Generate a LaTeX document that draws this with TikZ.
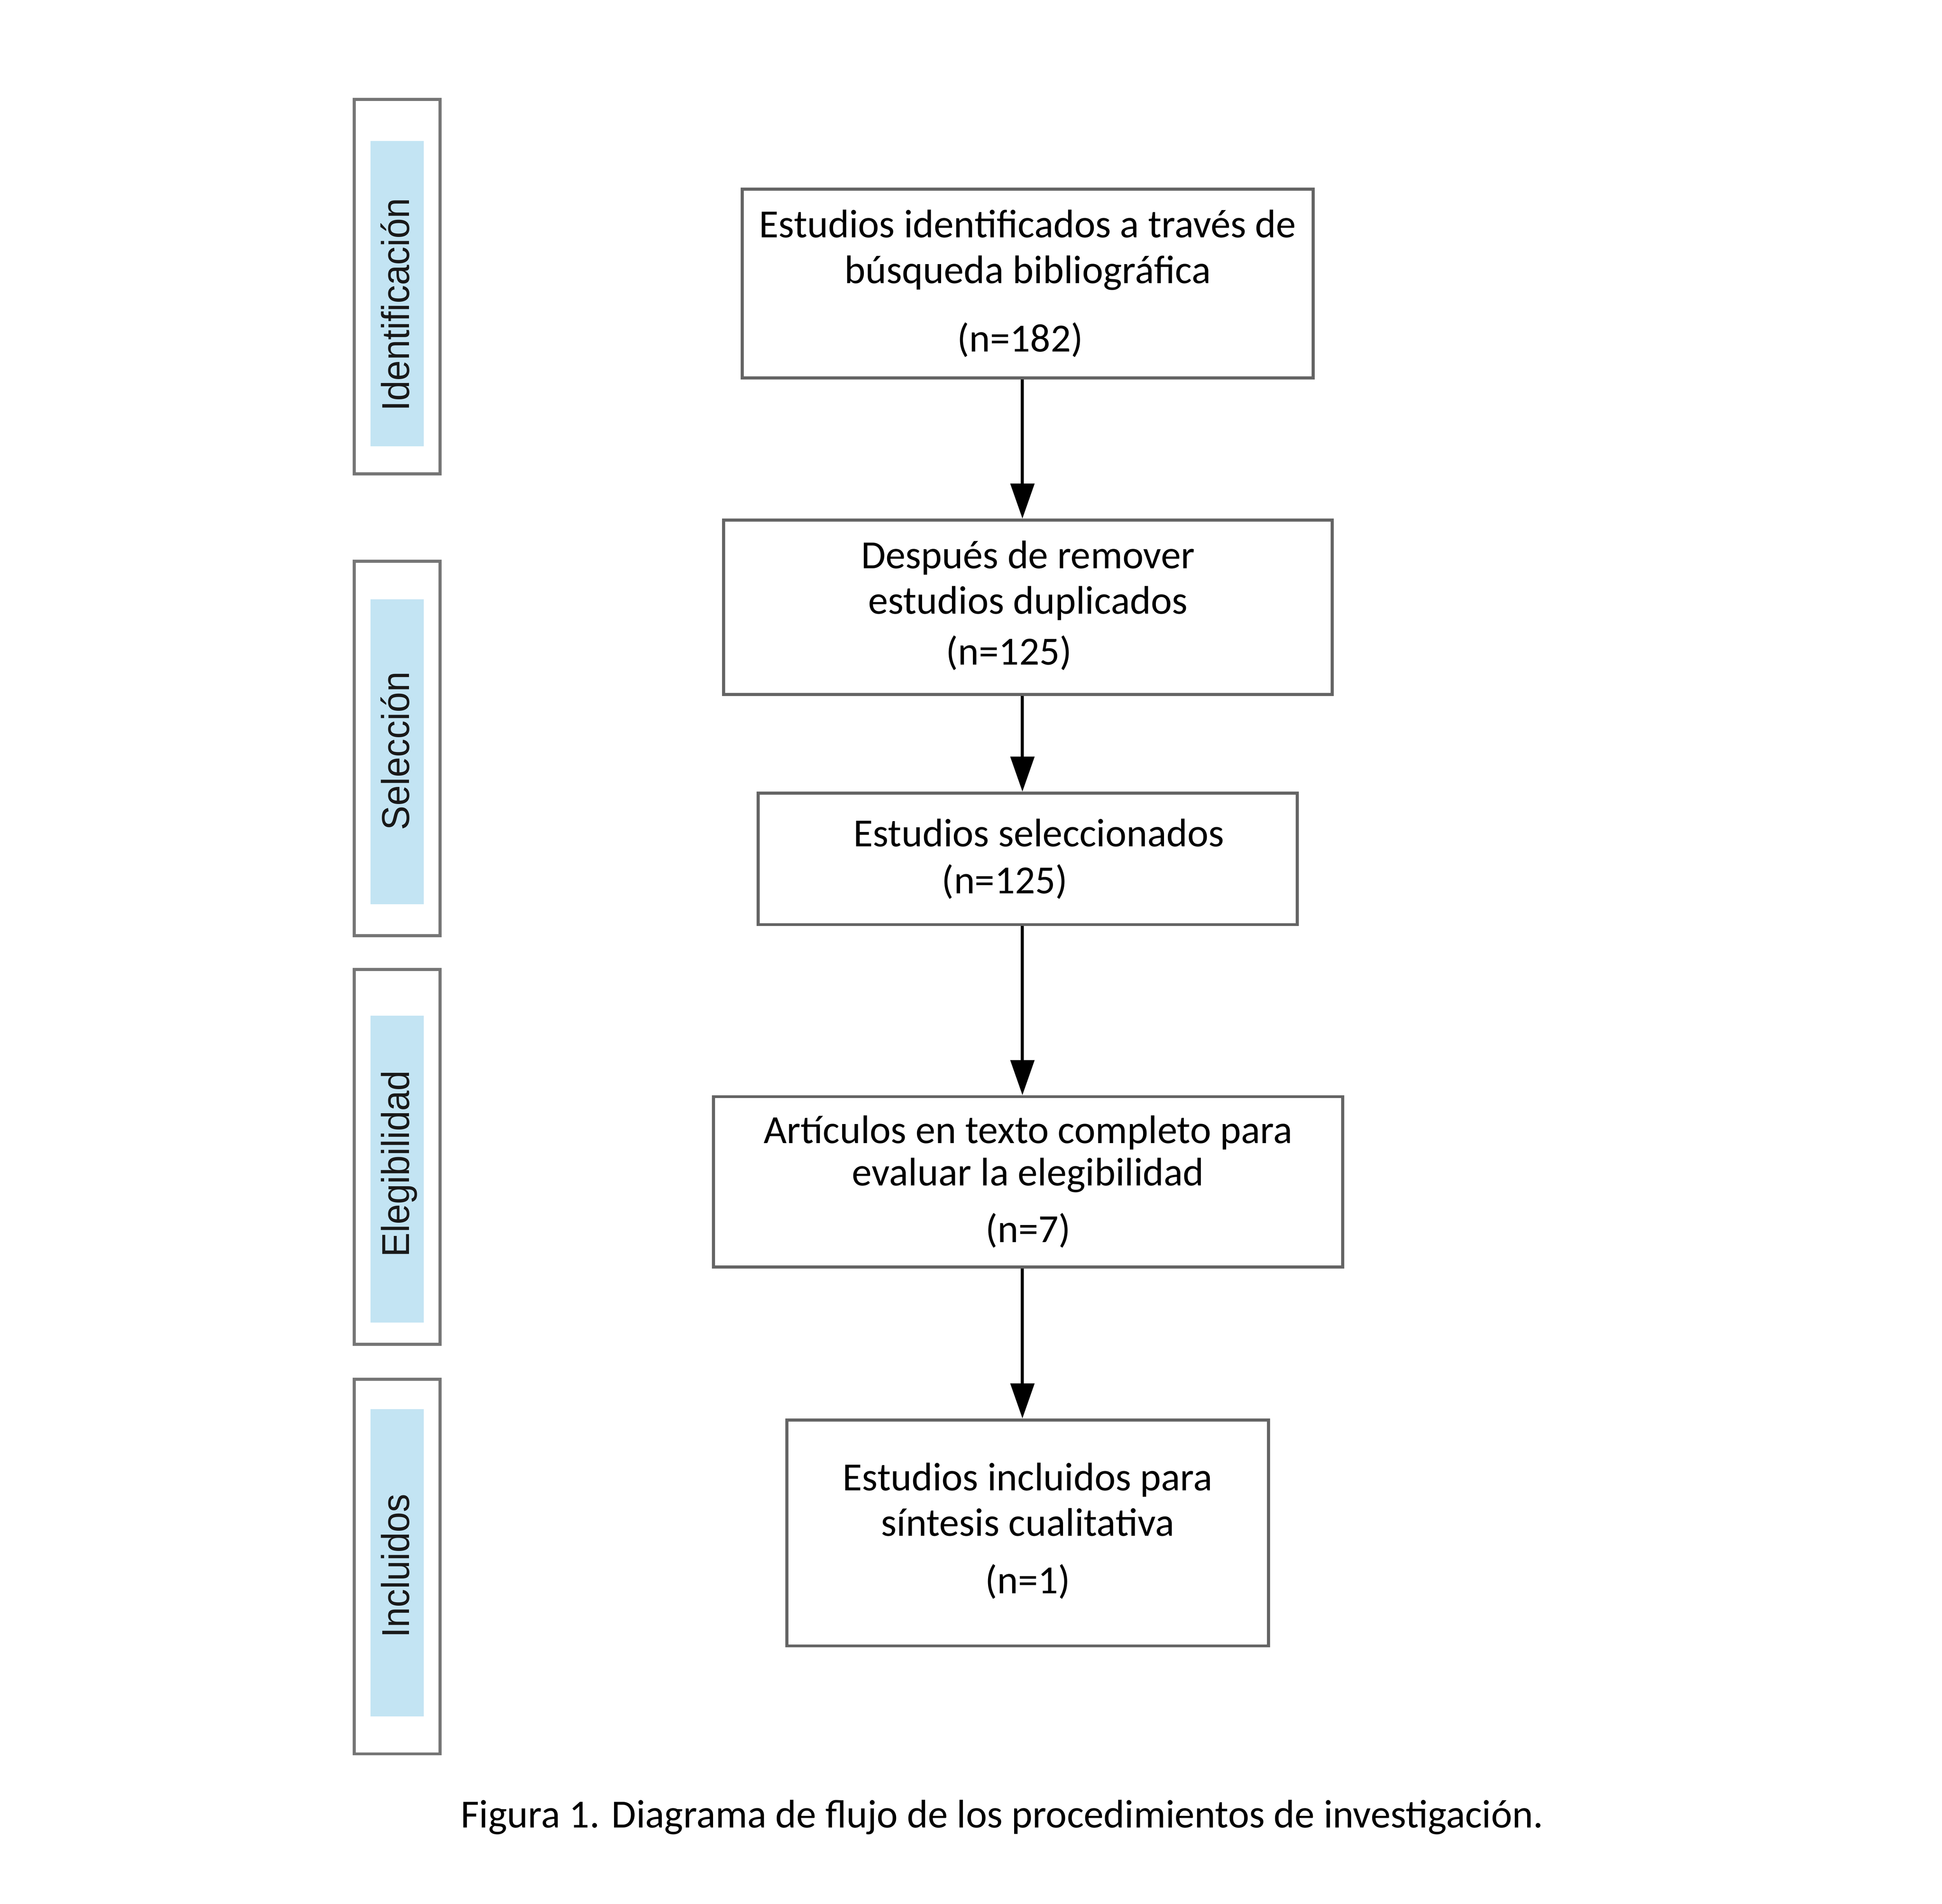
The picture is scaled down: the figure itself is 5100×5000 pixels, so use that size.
\documentclass[tikz,border=0pt]{standalone}
\usepackage{fontspec}
\setmainfont{Carlito}
\newfontfamily\labelfont{Liberation Sans}
\usetikzlibrary{arrows.meta}
\definecolor{boxgray}{HTML}{646464}
\definecolor{sidegray}{HTML}{757575}
\definecolor{stripblue}{HTML}{C3E4F3}
\tikzset{
  mainbox/.style={draw=boxgray, line width=0.08cm, fill=white, inner sep=0pt, align=center,
    font=\fontsize{29.8}{34}\selectfont},
  sidebox/.style={draw=sidegray, line width=0.08cm, fill=white, inner sep=0pt, minimum width=2.26cm, minimum height=9.83cm},
  strip/.style={fill=stripblue, draw=none, inner sep=0pt, minimum width=1.40cm},
  sidelabel/.style={rotate=90, anchor=base, inner sep=0pt, text=black!90,
    font=\labelfont\fontsize{29}{34}\selectfont},
  flowarrow/.style={draw=black, line width=0.08cm, -{Triangle[width=0.62cm,length=0.92cm]}},
  captionstyle/.style={anchor=base, inner sep=0pt, font=\fontsize{29.8}{34}\selectfont}
}
\begin{document}
\begin{tikzpicture}[x=0.01cm, y=-0.01cm]
\useasboundingbox (0,0) rectangle (5100,5000);
\fill[white] (0,0) rectangle (5100,5000);

% side phase boxes
\node[sidebox] (s1) at (1043,752.5) {};
\node[sidebox] (s2) at (1043,1965.5) {};
\node[sidebox] (s3) at (1043,3038) {};
\node[sidebox] (s4) at (1043,4114) {};
\node[strip, minimum height=8.01cm] (u1) at (1043,771.5) {};
\node[strip, minimum height=8.00cm] (u2) at (1043,1974) {};
\node[strip, minimum height=8.06cm] (u3) at (1043,3070) {};
\node[strip, minimum height=8.06cm] (u4) at (1043,4104) {};
\node[sidelabel] (l1) at (1075,800) {\scalebox{0.94}[1]{Identificación}};
\node[sidelabel] (l2) at (1075,1972) {\scalebox{0.94}[1]{Selección}};
\node[sidelabel] (l3) at (1075,3056) {\scalebox{0.94}[1]{Elegibilidad}};
\node[sidelabel] (l4) at (1075,4112) {\scalebox{0.94}[1]{Incluidos}};

% main flow boxes
\node[mainbox, minimum width=14.98cm, minimum height=4.95cm] (b1) at (2699,744.5)
  {Estudios identificados a través de\\[0cm] búsqueda bibliográfica\\[0.6cm]\hspace*{-0.4cm}(n=182)};
\node[mainbox, minimum width=15.97cm, minimum height=4.58cm] (b2) at (2699.5,1595)
  {\raisebox{0.16cm}{\begin{tabular}{@{}c@{}}Después de remover\\ estudios duplicados\\[0.14cm]\hspace*{-1cm}(n=125)\end{tabular}}};
\node[mainbox, minimum width=14.15cm, minimum height=3.45cm] (b3) at (2698.5,2255.5)
  {Estudios seleccionados\hspace*{-0.6cm}\\[0.04cm]\hspace*{-1.2cm}(n=125)};
\node[mainbox, minimum width=16.52cm, minimum height=4.47cm] (b4) at (2700,3103.5)
  {Artículos en texto completo para\\[-0.09cm] evaluar la elegibilidad\\[0.3cm](n=7)};
\node[mainbox, minimum width=12.64cm, minimum height=5.93cm] (b5) at (2699,4025.5)
  {\raisebox{0.16cm}{\begin{tabular}{@{}c@{}}Estudios incluidos para\\ síntesis cualitativa\\[0.32cm](n=1)\end{tabular}}};

% arrows
\coordinate (ax) at (2685,0);
\draw[flowarrow] (b1.south -| ax) -- (b2.north -| ax);
\draw[flowarrow] (b2.south -| ax) -- (b3.north -| ax);
\draw[flowarrow] (b3.south -| ax) -- (b4.north -| ax);
\draw[flowarrow] (b4.south -| ax) -- (b5.north -| ax);

% caption
\node[captionstyle] (cap) at (2632,4800) {Figura 1. Diagrama de flujo de los procedimientos de investigación.};
\end{tikzpicture}
\end{document}
